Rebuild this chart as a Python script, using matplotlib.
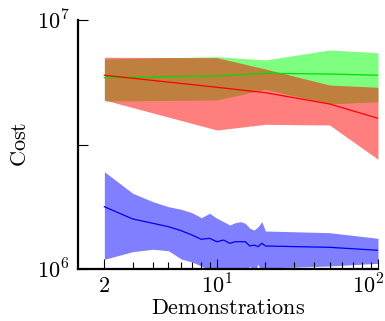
import matplotlib
matplotlib.use('Agg')
import matplotlib.pyplot as plt
import matplotlib.transforms as mtransforms

plt.rcParams['mathtext.fontset'] = 'cm'
plt.rcParams['font.family'] = 'DejaVu Serif'

# blue: dense sampling of demonstrations
demos_blue = [2, 3, 4, 5, 6, 7, 8, 9, 10, 11, 12, 13, 14, 15, 16, 17, 18, 19, 20, 50, 100]
blue_mean = [1.779e6, 1.588e6, 1.526e6, 1.479e6, 1.425e6, 1.369e6, 1.316e6, 1.328e6,
             1.287e6, 1.307e6, 1.268e6, 1.287e6, 1.287e6, 1.287e6, 1.237e6, 1.248e6,
             1.229e6, 1.268e6, 1.237e6, 1.222e6, 1.189e6]
blue_upper = [2.459e6, 2.014e6, 1.864e6, 1.779e6, 1.737e6, 1.683e6, 1.607e6, 1.674e6,
              1.598e6, 1.549e6, 1.502e6, 1.535e6, 1.549e6, 1.526e6, 1.457e6, 1.434e6,
              1.479e6, 1.549e6, 1.421e6, 1.399e6, 1.328e6]
blue_lower = [1.094e6, 1.174e6, 1.200e6, 1.184e6, 1.097e6, 1.067e6, 1.028e6, 0.991e6,
              0.955e6, 1.009e6, 0.973e6, 0.955e6, 1.019e6, 0.955e6, 1.028e6, 0.955e6,
              1.047e6, 0.955e6, 1.009e6, 1.028e6, 1.054e6]

# red / green: sparse sampling
demos = [2, 10, 20, 50, 100]
red_mean = [6.000e6, 5.367e6, 5.105e6, 4.600e6, 4.030e6]
red_upper = [7.085e6, 7.058e6, 6.357e6, 5.483e6, 5.367e6]
red_lower = [4.772e6, 3.615e6, 3.811e6, 3.787e6, 2.758e6]
green_mean = [5.866e6, 5.958e6, 6.109e6, 6.068e6, 6.000e6]
green_upper = [6.973e6, 7.124e6, 6.909e6, 7.578e6, 7.391e6]
green_lower = [4.728e6, 4.772e6, 5.268e6, 4.600e6, 4.698e6]

fig = plt.figure(figsize=(3.85, 3.21), dpi=100)
ax = fig.add_axes([78 / 385, 52 / 321, 300 / 385, 249 / 321])

ax.fill_between(demos_blue, blue_lower, blue_upper, color='#0000ff', alpha=0.5, linewidth=0)
ax.plot(demos_blue, blue_mean, color='#0000ee', linewidth=0.9)
ax.fill_between(demos, green_lower, green_upper, color='#00ff00', alpha=0.5, linewidth=0)
ax.plot(demos, green_mean, color='#00dd00', linewidth=0.9)
ax.fill_between(demos, red_lower, red_upper, color='#ff0000', alpha=0.5, linewidth=0)
ax.plot(demos, red_mean, color='#ff0000', linewidth=0.9)

ax.set_xscale('log')
ax.set_yscale('log')
ax.set_xlim(1.372, 100)
ax.set_ylim(1e6, 1e7)

ax.spines['top'].set_visible(False)
ax.spines['right'].set_visible(False)
ax.spines['left'].set_linewidth(1.6)
ax.spines['bottom'].set_linewidth(1.6)

ax.set_xticks([2, 10, 100])
ax.set_xticklabels(['$2$', '$10^1$', '$10^2$'])
ax.set_xticks([3, 4, 5, 6, 7, 8, 9, 20, 30, 40, 50, 60, 70, 80, 90], minor=True)
ax.set_xticklabels([], minor=True)
ax.set_yticks([1e6, 10 ** 6.5, 1e7])
ax.set_yticklabels(['$10^6$', '', '$10^7$'])
ax.set_yticks([], minor=True)

ax.tick_params(which='major', direction='in', length=7, width=0.8, labelsize=16, pad=6)
ax.tick_params(axis='x', which='major', pad=4)
ax.tick_params(which='minor', direction='in', length=4.8, width=0.8)
ax.yaxis.get_major_ticks()[1].tick1line.set_color('#808080')

# keep the 10^2 label inside the figure
last = ax.get_xticklabels()[-1]
last.set_transform(last.get_transform() + mtransforms.ScaledTranslation(-10 / 100, 0, fig.dpi_scale_trans))

ax.set_xlabel(r'$\mathrm{Demonstrations}$', fontsize=16, labelpad=-1)
ax.set_ylabel(r'$\mathrm{Cost}$', fontsize=16, labelpad=4)

fig.savefig('out.png', dpi=100)
